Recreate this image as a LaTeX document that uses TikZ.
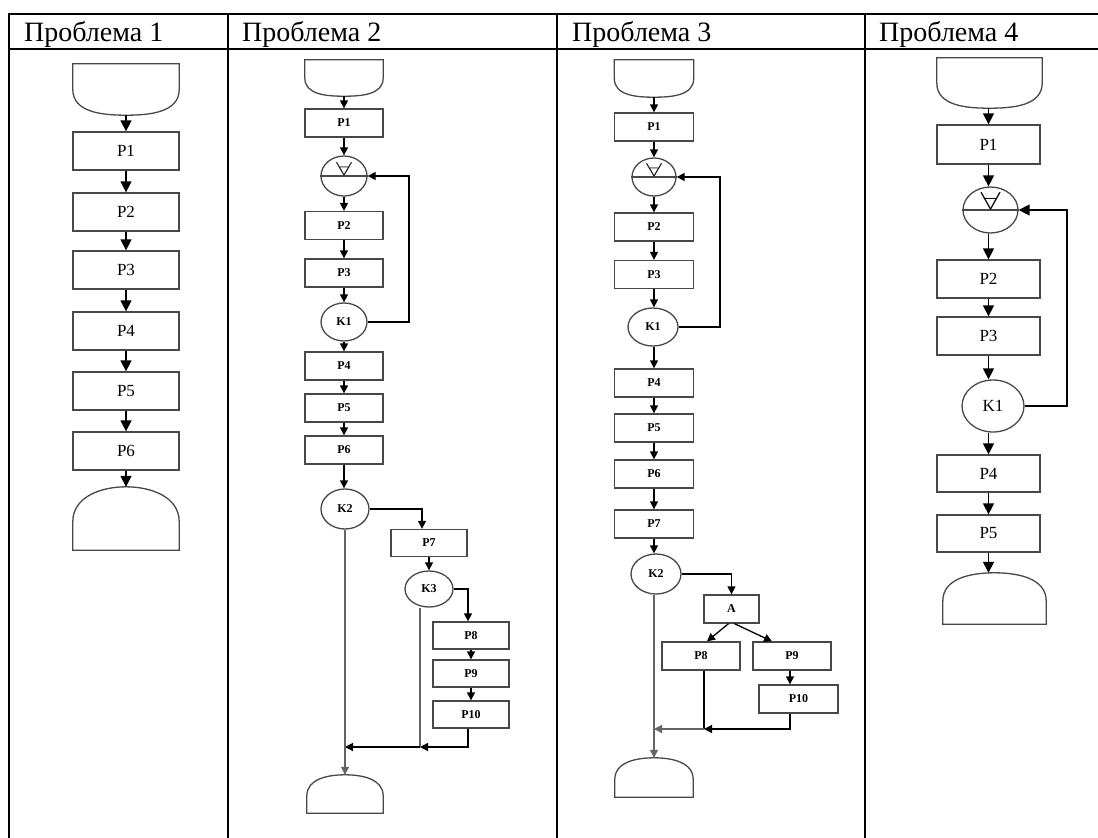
\documentclass[tikz,border=0pt]{standalone}
\usepackage{fontspec}
\setmainfont{Liberation Serif}
\usetikzlibrary{arrows.meta,shapes.geometric,calc}
\definecolor{shapegray}{RGB}{72,72,72}
\definecolor{linegray}{RGB}{100,100,100}
\tikzset{
  shp/.style={draw=shapegray, line width=1.3pt},
  bx/.style={shp, rectangle, inner sep=0pt},
  el/.style={shp, ellipse, inner sep=0pt},
  capnode/.style={inner sep=0pt, draw=none},
  ln/.style={line width=1.3pt, draw=black},
  arrA/.style={-{Triangle[length=11pt,width=11pt]}, line width=1.5pt},
  arrB/.style={-{Triangle[length=8pt,width=8pt]}, line width=1.3pt},
  tbl/.style={line width=2pt, draw=black},
  hdr/.style={anchor=base west, inner sep=0pt, font=\fontsize{28}{32}\selectfont},
  labA/.style={font=\fontsize{17}{19}\selectfont},
  labB/.style={font=\bfseries\fontsize{12}{14}\selectfont},
  col1/.style={bx, labA, minimum width=106, minimum height=38},
  col2/.style={bx, labB, minimum width=78, minimum height=28},
  col4/.style={bx, labA, minimum width=103, minimum height=38},
  forallsym/.style={inner sep=0pt, anchor=south},
}
\newcommand{\drawstartshape}[1]{\draw[shp] (#1.north west) -- (#1.north east) -- ($(#1.north east)!0.5!(#1.south east)$) to[out=-90,in=0] (#1.south) to[out=180,in=-90] ($(#1.north west)!0.5!(#1.south west)$) -- cycle;}
\newcommand{\drawendshape}[1]{\draw[shp] (#1.south west) -- (#1.south east) -- ($(#1.south east)!0.45!(#1.north east)$) to[out=90,in=0] (#1.north) to[out=180,in=90] ($(#1.south west)!0.45!(#1.north west)$) -- cycle;}
\begin{document}
\begin{tikzpicture}[x=1pt,y=-1pt]
\useasboundingbox (0,0) rectangle (1098,838);
% table
\draw[tbl] (9,14) -- (1098,14);
\draw[tbl] (9,49) -- (1098,49);
\draw[tbl] (9,13) -- (9,838);
\draw[tbl] (228,13) -- (228,838);
\draw[tbl] (557,13) -- (557,838);
\draw[tbl] (865,13) -- (865,838);
\node[hdr] (h1) at (24,41) {Проблема 1};
\node[hdr] (h2) at (242,41) {Проблема 2};
\node[hdr] (h3) at (572,41) {Проблема 3};
\node[hdr] (h4) at (879,41) {Проблема 4};

% ---------- column 1
\node[capnode, minimum width=106, minimum height=51] (s1) at (126,89.5) {};
\drawstartshape{s1}
\node[col1] (a1) at (126,151) {P1};
\node[col1] (a2) at (126,212) {P2};
\node[col1] (a3) at (126,270) {P3};
\node[col1] (a4) at (126,331) {P4};
\node[col1] (a5) at (126,391) {P5};
\node[col1] (a6) at (126,451) {P6};
\node[capnode, minimum width=106, minimum height=63] (e1) at (126,518.5) {};
\drawendshape{e1}
\draw[arrA] (s1.south) -- (a1.north);
\draw[arrA] (a1.south) -- (a2.north);
\draw[arrA] (a2.south) -- (a3.north);
\draw[arrA] (a3.south) -- (a4.north);
\draw[arrA] (a4.south) -- (a5.north);
\draw[arrA] (a5.south) -- (a6.north);
\draw[arrA] (a6.south) -- (e1.north);

% ---------- column 2
\node[capnode, minimum width=78, minimum height=36] (s2) at (344,78) {};
\drawstartshape{s2}
\node[col2] (b21) at (344,123) {P1};
\node[el, minimum width=46, minimum height=40] (f2) at (344,176) {};
\draw[shp] (f2.west) -- (f2.east);
\node[forallsym] (q2) at (f2.center) {\resizebox{16pt}{13pt}{$\forall$}};
\node[col2] (b22) at (344,225.5) {P2};
\node[col2] (b23) at (344,273) {P3};
\node[el, labB, minimum width=46, minimum height=38] (k21) at (344,322) {K1};
\node[col2] (b24) at (344,366) {P4};
\node[col2] (b25) at (344,408) {P5};
\node[col2] (b26) at (344,450) {P6};
\node[el, labB, minimum width=48, minimum height=40] (k22) at (345,509) {K2};
\node[col2, minimum width=76, minimum height=27] (b27) at (429,543) {P7};
\node[el, labB, minimum width=48, minimum height=36] (k23) at (429,589) {K3};
\node[col2, minimum width=76, minimum height=27] (b28) at (471,635.5) {P8};
\node[col2, minimum width=76, minimum height=27] (b29) at (471,673.5) {P9};
\node[col2, minimum width=76, minimum height=27] (b210) at (471,714.5) {P10};
\node[capnode, minimum width=76, minimum height=38] (e2) at (345,794) {};
\drawendshape{e2}
\coordinate (L2) at (409,250);
\coordinate (m21) at (420,747);
\coordinate (m22) at (345,747);
\draw[arrB] (s2.south) -- (b21.north);
\draw[arrB] (b21.south) -- (f2.north);
\draw[arrB] (f2.south) -- (b22.north);
\draw[arrB] (b22.south) -- (b23.north);
\draw[arrB] (b23.south) -- (k21.north);
\draw[arrB] (k21.south) -- (b24.north);
\draw[arrB] (b24.south) -- (b25.north);
\draw[arrB] (b25.south) -- (b26.north);
\draw[arrB] (b26.south) -- (b26.south |- k22.north);
\draw[arrB] (k21.east) -| (L2) |- (f2.east);
\draw[arrB] (k22.east) -| ([xshift=-7pt]b27.north);
\draw[arrB] (b27.south) -- (k23.north);
\draw[arrB] (k23.east) -| ([xshift=-3pt]b28.north);
\draw[arrB] (b28.south) -- (b29.north);
\draw[arrB] (b29.south) -- (b210.north);
\draw[arrB] ([xshift=-3pt]b210.south) |- (m21);
\draw[ln, draw=linegray] (m21 |- k23.south) -- (m21);
\draw[arrB] (m21) -- (m22);
\draw[arrB, draw=linegray] (k22.south) -- (e2.north);

% ---------- column 3
\node[capnode, minimum width=79, minimum height=37] (s3) at (654,78.5) {};
\drawstartshape{s3}
\node[col2, minimum width=79] (b31) at (654,127) {P1};
\node[el, minimum width=44, minimum height=38] (f3) at (654,177) {};
\draw[shp] (f3.west) -- (f3.east);
\node[forallsym] (q3) at (f3.center) {\resizebox{16pt}{13pt}{$\forall$}};
\node[col2, minimum width=79] (b32) at (654,227) {P2};
\node[col2, minimum width=79] (b33) at (654,274.5) {P3};
\node[el, labB, minimum width=50, minimum height=38] (k31) at (653,327) {K1};
\node[col2, minimum width=79] (b34) at (654,383) {P4};
\node[col2, minimum width=79] (b35) at (654,428) {P5};
\node[col2, minimum width=79] (b36) at (654,474) {P6};
\node[col2, minimum width=79] (b37) at (654,524) {P7};
\node[el, labB, minimum width=50, minimum height=40] (k32) at (656,574) {K2};
\node[col2, minimum width=55] (ba) at (731.5,609) {A};
\node[col2] (b38) at (701,656) {P8};
\node[col2] (b39) at (792,656) {P9};
\node[col2, minimum width=79] (b310) at (798.5,699) {P10};
\node[capnode, minimum width=78, minimum height=39] (e3) at (654,777.5) {};
\drawendshape{e3}
\coordinate (L3) at (720,250);
\coordinate (m31) at (704,729);
\coordinate (m32) at (654,729);
\draw[arrB] (s3.south) -- (b31.north);
\draw[arrB] (b31.south) -- (f3.north);
\draw[arrB] (f3.south) -- (b32.north);
\draw[arrB] (b32.south) -- (b33.north);
\draw[arrB] (b33.south) -- (b33.south |- k31.north);
\draw[arrB] (b33.south |- k31.south) -- (b34.north);
\draw[arrB] (b34.south) -- (b35.north);
\draw[arrB] (b35.south) -- (b36.north);
\draw[arrB] (b36.south) -- (b37.north);
\draw[arrB] (b37.south) -- (b37.south |- k32.north);
\draw[arrB] (k31.east) -| (L3) |- (f3.east);
\draw[arrB] (k32.east) -| (ba.north);
\draw[arrB] ([xshift=-3pt]ba.south) -- ([xshift=6pt]b38.north);
\draw[arrB] ([xshift=3pt]ba.south) -- ([xshift=-20pt]b39.north);
\draw[arrB] ([xshift=-2pt]b39.south) -- ([xshift=-8.5pt]b310.north);
\draw[ln] (b38.south -| m31) -- (m31);
\draw[arrB] ([xshift=-8.5pt]b310.south) |- (m31);
\draw[arrB, draw=linegray] (m31) -- (m32);
\draw[arrB, draw=linegray] (m32 |- k32.south) -- (e3.north);

% ---------- column 4
\node[capnode, minimum width=105, minimum height=50] (s4) at (989.5,83) {};
\drawstartshape{s4}
\node[col4, minimum height=39] (c1) at (988.5,144.5) {P1};
\node[el, minimum width=55, minimum height=46] (f4) at (990.5,210) {};
\draw[shp] (f4.west) -- (f4.east);
\node[forallsym] (q4) at (f4.center) {\resizebox{20pt}{17pt}{$\forall$}};
\node[col4] (c2) at (988.5,279) {P2};
\node[col4] (c3) at (988.5,336) {P3};
\node[el, labA, minimum width=62, minimum height=52] (k41) at (993,406) {K1};
\node[col4, minimum height=37] (c4) at (988.5,473.5) {P4};
\node[col4, minimum height=37] (c5) at (988.5,533.5) {P5};
\node[capnode, minimum width=103, minimum height=51] (e4) at (994.5,598.5) {};
\drawendshape{e4}
\coordinate (L4) at (1067,300);
\draw[arrA] (s4.south -| c1.north) -- (c1.north);
\draw[arrA] (c1.south) -- (c1.south |- f4.north);
\draw[arrA] (c1.south |- f4.south) -- (c2.north);
\draw[arrA] (c2.south) -- (c3.north);
\draw[arrA] (c3.south) -- (c3.south |- k41.north);
\draw[arrA] (c3.south |- k41.south) -- (c4.north);
\draw[arrA] (c4.south) -- (c5.north);
\draw[arrA] (c5.south) -- (c5.south |- e4.north);
\draw[arrA] (k41.east) -| (L4) |- (f4.east);
\end{tikzpicture}
\end{document}
